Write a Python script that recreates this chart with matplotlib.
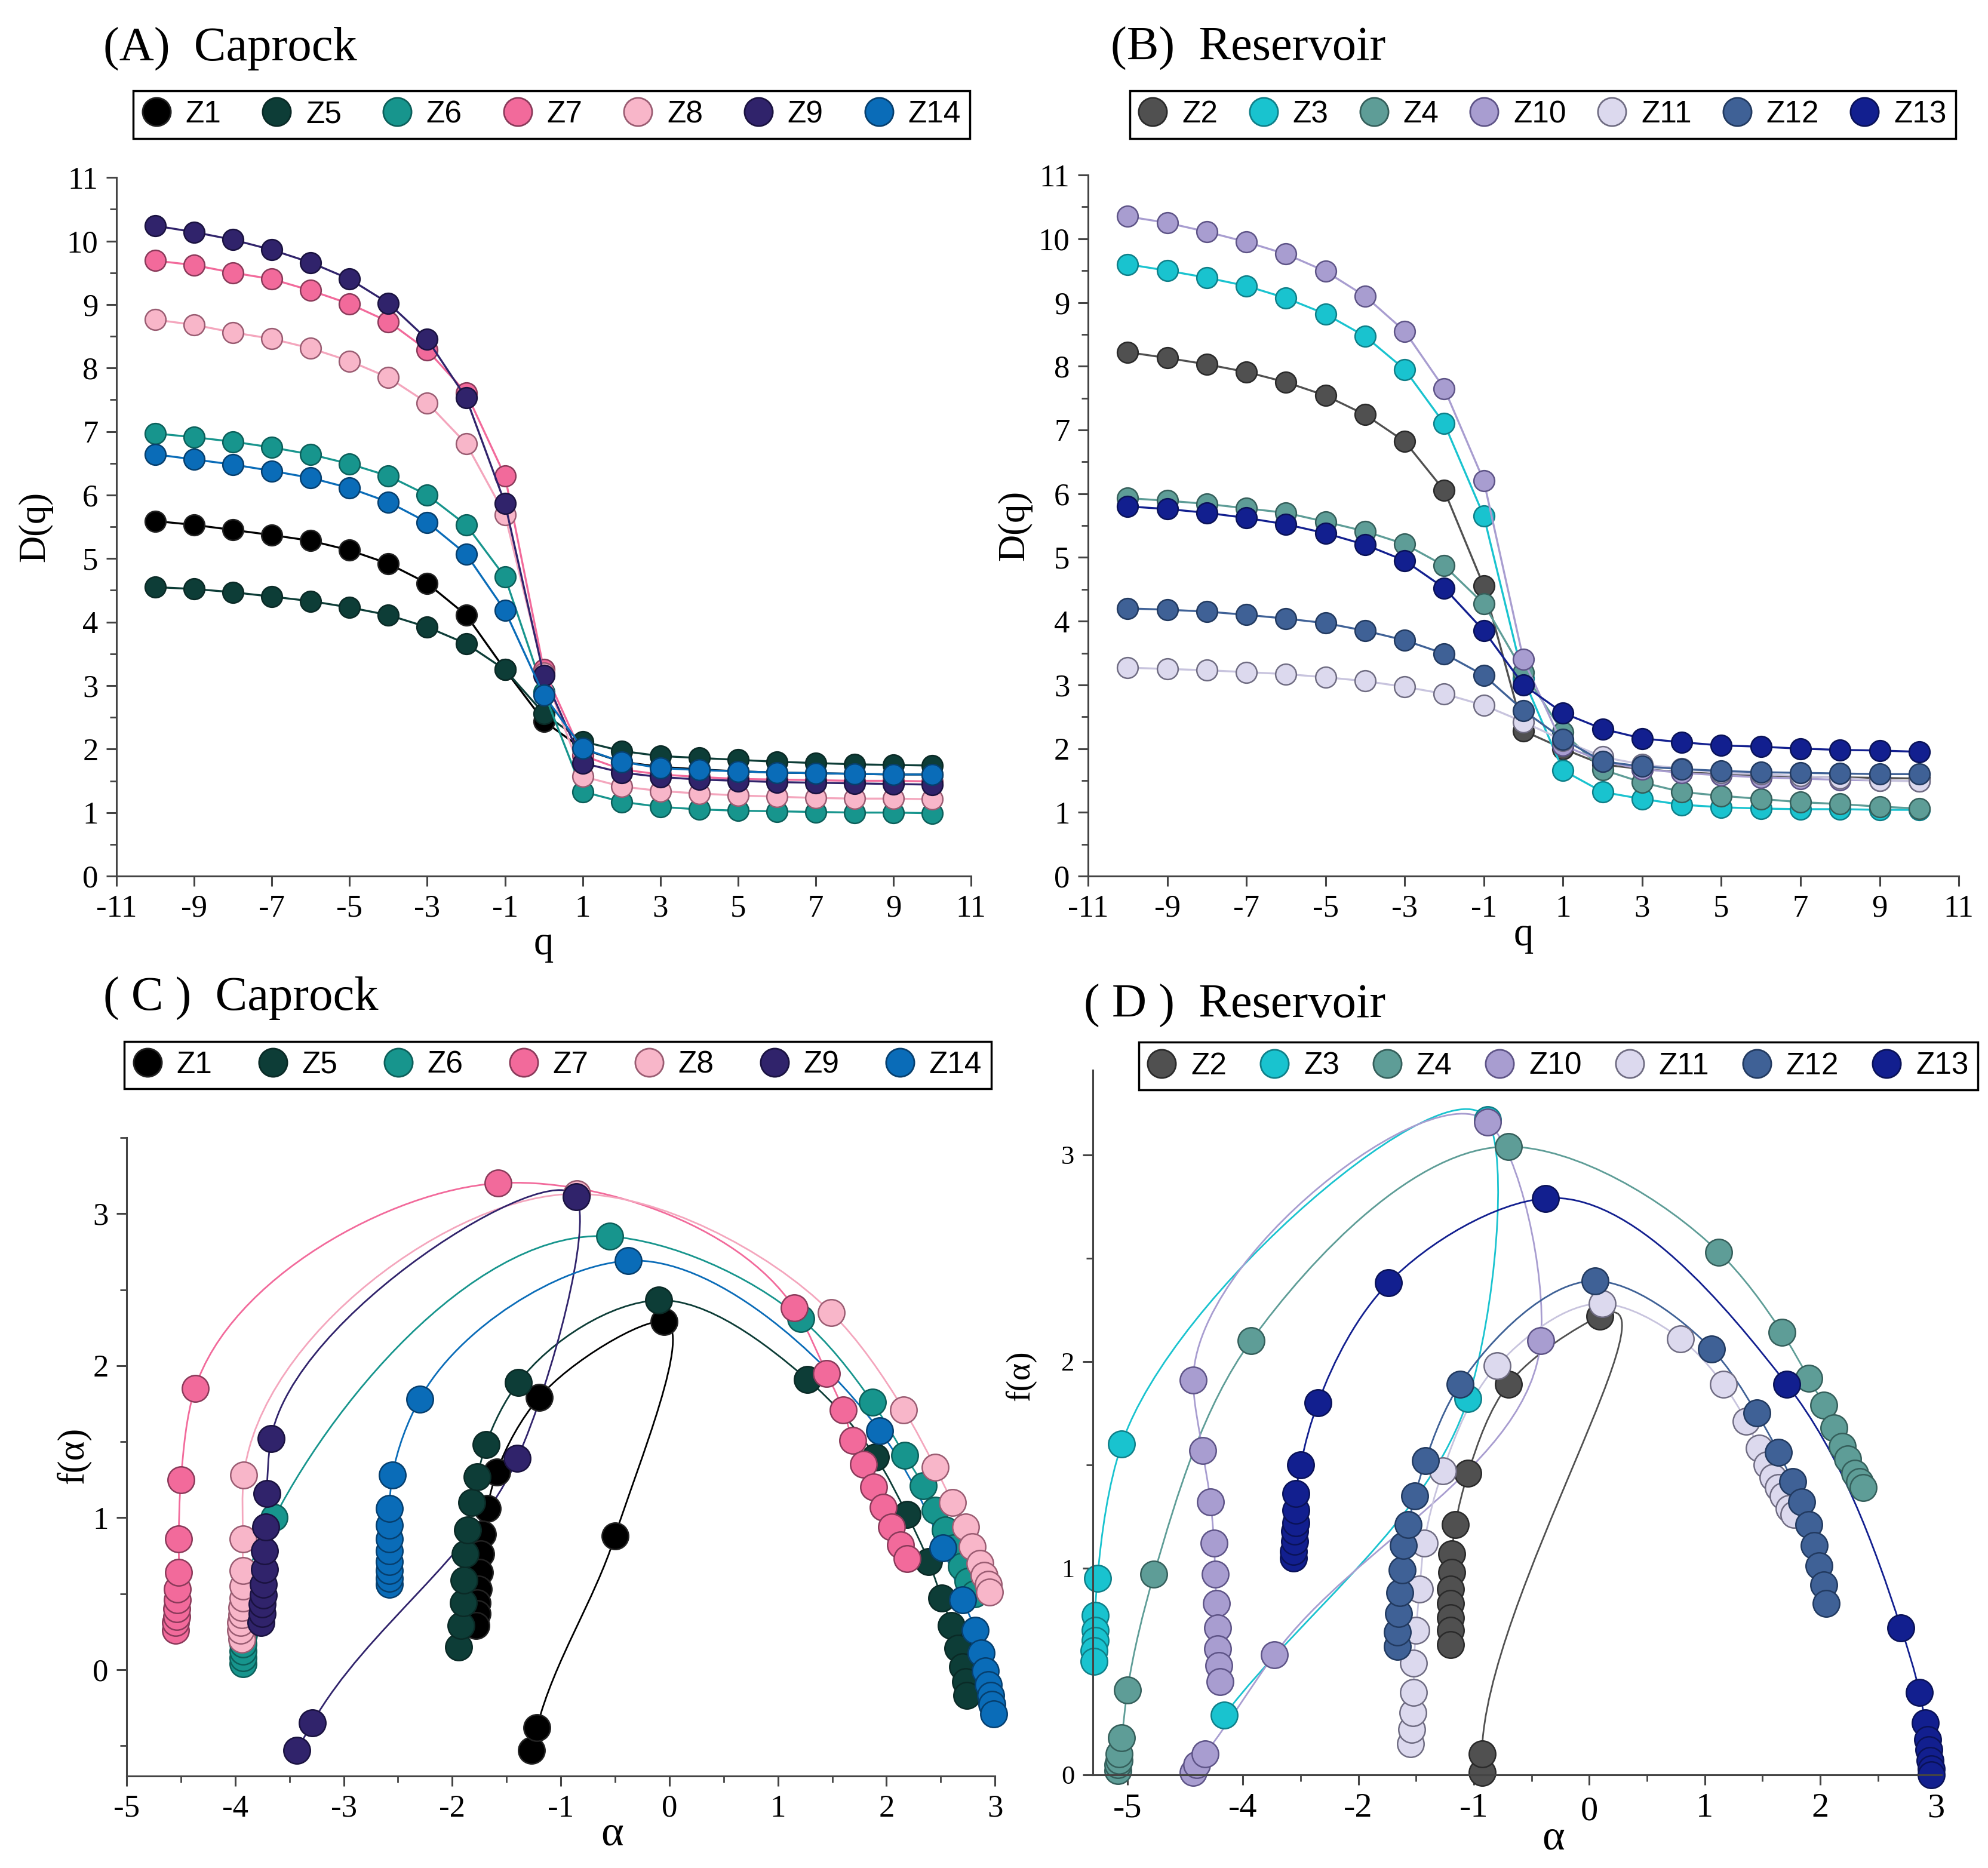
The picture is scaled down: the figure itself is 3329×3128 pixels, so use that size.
import numpy as np
import matplotlib
matplotlib.use('Agg')
import matplotlib.pyplot as plt
from matplotlib.path import Path
from matplotlib.patches import PathPatch
from matplotlib.lines import Line2D
from matplotlib.ticker import FixedLocator, MultipleLocator, FixedFormatter
from matplotlib.transforms import ScaledTranslation

plt.rcParams['font.family'] = ['Liberation Serif', 'DejaVu Serif']
plt.rcParams['axes.unicode_minus'] = False

# ---------------- data ----------------
q = list(range(-10, 11))

# (A) caprock D(q)
capA_names = ['Z1', 'Z5', 'Z6', 'Z7', 'Z8', 'Z9', 'Z14']
dq_Z1 = [5.59, 5.53, 5.45, 5.37, 5.28, 5.13, 4.92, 4.61, 4.11, 3.25, 2.44, 2.00, 1.80, 1.72, 1.68, 1.65, 1.63, 1.62, 1.61, 1.60, 1.60]
dq_Z5 = [4.55, 4.52, 4.47, 4.40, 4.33, 4.23, 4.11, 3.92, 3.66, 3.25, 2.56, 2.12, 1.97, 1.89, 1.86, 1.83, 1.80, 1.78, 1.76, 1.75, 1.74]
dq_Z6 = [6.97, 6.91, 6.84, 6.75, 6.64, 6.49, 6.30, 6.00, 5.53, 4.71, 2.90, 1.33, 1.17, 1.09, 1.05, 1.03, 1.02, 1.01, 1.00, 1.00, 0.99]
dq_Z7 = [9.69, 9.62, 9.50, 9.40, 9.22, 9.01, 8.73, 8.28, 7.61, 6.30, 3.25, 1.90, 1.68, 1.60, 1.56, 1.53, 1.52, 1.51, 1.50, 1.50, 1.49]
dq_Z8 = [8.76, 8.68, 8.56, 8.46, 8.31, 8.11, 7.85, 7.45, 6.81, 5.69, 3.20, 1.57, 1.41, 1.34, 1.30, 1.27, 1.25, 1.23, 1.22, 1.22, 1.21]
dq_Z9 = [10.24, 10.14, 10.02, 9.86, 9.66, 9.40, 9.02, 8.45, 7.53, 5.87, 3.16, 1.78, 1.63, 1.56, 1.52, 1.50, 1.48, 1.47, 1.46, 1.45, 1.44]
dq_Z14 = [6.64, 6.56, 6.48, 6.38, 6.27, 6.11, 5.89, 5.57, 5.07, 4.18, 2.85, 2.01, 1.80, 1.70, 1.67, 1.65, 1.63, 1.62, 1.61, 1.60, 1.60]

# (B) reservoir D(q)
resB_names = ['Z2', 'Z3', 'Z4', 'Z10', 'Z11', 'Z12', 'Z13']
dq_Z2 = [8.22, 8.13, 8.03, 7.91, 7.75, 7.54, 7.24, 6.82, 6.05, 4.55, 2.28, 2.00, 1.75, 1.68, 1.63, 1.60, 1.58, 1.56, 1.55, 1.54, 1.53]
dq_Z3 = [9.60, 9.50, 9.39, 9.26, 9.07, 8.82, 8.47, 7.95, 7.10, 5.65, 3.10, 1.66, 1.32, 1.21, 1.12, 1.08, 1.06, 1.05, 1.05, 1.04, 1.04]
dq_Z4 = [5.93, 5.89, 5.84, 5.77, 5.70, 5.56, 5.41, 5.21, 4.87, 4.27, 3.20, 2.26, 1.67, 1.47, 1.32, 1.26, 1.21, 1.16, 1.13, 1.09, 1.06]
dq_Z10 = [10.35, 10.25, 10.11, 9.95, 9.76, 9.49, 9.10, 8.55, 7.65, 6.20, 3.40, 2.05, 1.80, 1.68, 1.62, 1.58, 1.55, 1.53, 1.51, 1.50, 1.49]
dq_Z11 = [3.27, 3.25, 3.23, 3.20, 3.17, 3.12, 3.06, 2.97, 2.86, 2.68, 2.42, 2.13, 1.87, 1.75, 1.69, 1.62, 1.60, 1.57, 1.54, 1.50, 1.49]
dq_Z12 = [4.20, 4.18, 4.15, 4.10, 4.04, 3.97, 3.85, 3.70, 3.49, 3.15, 2.60, 2.15, 1.80, 1.72, 1.68, 1.65, 1.63, 1.62, 1.61, 1.60, 1.60]
dq_Z13 = [5.80, 5.76, 5.70, 5.62, 5.52, 5.38, 5.20, 4.95, 4.52, 3.85, 3.00, 2.56, 2.31, 2.16, 2.10, 2.05, 2.03, 2.00, 1.98, 1.97, 1.95]

# (C) caprock f(alpha), points in the order the curve passes them
a_Z1 = [-1.27, -1.22, -0.50, -0.05, -1.20, -1.59, -1.68, -1.72, -1.74, -1.75, -1.76, -1.77, -1.77, -1.78]
f_Z1 = [-0.53, -0.38, 0.88, 2.29, 1.79, 1.30, 1.06, 0.89, 0.76, 0.64, 0.53, 0.44, 0.37, 0.29]
a_Z5 = [-1.94, -1.92, -1.90, -1.89, -1.88, -1.86, -1.82, -1.77, -1.69, -1.39, -0.10, 1.27, 1.90, 2.19, 2.39, 2.51, 2.60, 2.66, 2.70, 2.73, 2.74]
f_Z5 = [0.15, 0.29, 0.44, 0.59, 0.76, 0.92, 1.10, 1.27, 1.48, 1.89, 2.43, 1.91, 1.40, 1.02, 0.71, 0.47, 0.29, 0.14, 0.02, -0.08, -0.17]
a_Z6 = [-3.93, -3.93, -3.93, -3.93, -3.92, -3.92, -3.91, -3.90, -3.88, -3.64, -0.55, 1.21, 1.87, 2.17, 2.34, 2.45, 2.54, 2.62, 2.69, 2.75, 2.81]
f_Z6 = [0.04, 0.08, 0.12, 0.17, 0.23, 0.30, 0.38, 0.48, 0.62, 1.00, 2.85, 2.31, 1.76, 1.41, 1.21, 1.05, 0.92, 0.80, 0.68, 0.58, 0.50]
a_Z7 = [-4.55, -4.55, -4.54, -4.54, -4.53, -4.53, -4.52, -4.52, -4.50, -4.37, -1.58, 1.15, 1.45, 1.60, 1.69, 1.79, 1.88, 1.97, 2.05, 2.13, 2.19]
f_Z7 = [0.26, 0.31, 0.35, 0.40, 0.46, 0.53, 0.64, 0.86, 1.25, 1.85, 3.20, 2.38, 1.95, 1.71, 1.51, 1.35, 1.20, 1.07, 0.94, 0.82, 0.73]
a_Z8 = [-3.94, -3.95, -3.95, -3.94, -3.94, -3.93, -3.93, -3.93, -3.93, -3.92, -0.85, 1.49, 2.16, 2.45, 2.61, 2.73, 2.79, 2.86, 2.90, 2.94, 2.95]
f_Z8 = [0.20, 0.26, 0.31, 0.36, 0.41, 0.47, 0.55, 0.65, 0.86, 1.28, 3.13, 2.35, 1.71, 1.33, 1.10, 0.94, 0.81, 0.70, 0.62, 0.56, 0.51]
a_Z9 = [-3.76, -3.75, -3.75, -3.74, -3.74, -3.73, -3.73, -3.72, -3.71, -3.67, -0.86, -1.40, -3.29, -3.43]
f_Z9 = [0.31, 0.37, 0.43, 0.49, 0.56, 0.66, 0.78, 0.94, 1.16, 1.52, 3.11, 1.39, -0.35, -0.53]
a_Z14 = [-2.58, -2.58, -2.58, -2.58, -2.58, -2.58, -2.58, -2.58, -2.55, -2.30, -0.38, 1.94, 2.52, 2.70, 2.82, 2.87, 2.91, 2.94, 2.96, 2.97, 2.99]
f_Z14 = [0.56, 0.60, 0.65, 0.71, 0.78, 0.86, 0.95, 1.06, 1.28, 1.78, 2.69, 1.57, 0.80, 0.46, 0.26, 0.11, -0.01, -0.10, -0.17, -0.23, -0.29]

# (D) reservoir f(alpha); x positions on the linear axis (its tick labels read -5,-4,-2,...)
a_Z2 = [-0.93, -0.93, 0.09, -0.70, -1.05, -1.16, -1.19, -1.19, -1.20, -1.20, -1.20, -1.20, -1.20]
f_Z2 = [0.01, 0.10, 2.22, 1.89, 1.46, 1.21, 1.07, 0.98, 0.90, 0.83, 0.76, 0.70, 0.63]
a_Z3 = [-3.16, -1.05, -0.88, -4.05, -4.26, -4.28, -4.28, -4.28, -4.29, -4.29]
f_Z3 = [0.29, 1.82, 3.17, 1.60, 0.95, 0.77, 0.70, 0.65, 0.60, 0.55]
a_Z4 = [-4.08, -4.08, -4.07, -4.07, -4.05, -4.00, -3.77, -2.93, -0.70, 1.12, 1.67, 1.90, 2.03, 2.12, 2.19, 2.24, 2.30, 2.34, 2.37]
f_Z4 = [0.02, 0.05, 0.07, 0.10, 0.18, 0.41, 0.97, 2.10, 3.04, 2.53, 2.14, 1.92, 1.79, 1.68, 1.59, 1.53, 1.46, 1.42, 1.39]
a_Z10 = [-3.43, -3.40, -3.33, -2.73, -0.42, -0.88, -3.43, -3.35, -3.28, -3.25, -3.24, -3.23, -3.22, -3.22, -3.21, -3.20]
f_Z10 = [0.01, 0.05, 0.10, 0.58, 2.10, 3.16, 1.91, 1.57, 1.32, 1.12, 0.97, 0.83, 0.71, 0.61, 0.53, 0.45]
a_Z11 = [-1.55, -1.54, -1.53, -1.52, -1.52, -1.50, -1.47, -1.43, -1.27, -0.80, 0.11, 0.79, 1.16, 1.36, 1.47, 1.54, 1.59, 1.64, 1.68, 1.73, 1.77]
f_Z11 = [0.15, 0.22, 0.30, 0.40, 0.54, 0.70, 0.90, 1.12, 1.47, 1.98, 2.28, 2.11, 1.89, 1.71, 1.58, 1.50, 1.44, 1.39, 1.35, 1.29, 1.26]
a_Z12 = [-1.66, -1.66, -1.65, -1.64, -1.62, -1.61, -1.57, -1.51, -1.42, -1.12, 0.05, 1.06, 1.45, 1.64, 1.76, 1.84, 1.90, 1.95, 1.99, 2.03, 2.05]
f_Z12 = [0.62, 0.69, 0.78, 0.88, 0.99, 1.11, 1.21, 1.35, 1.52, 1.89, 2.39, 2.06, 1.75, 1.56, 1.42, 1.32, 1.21, 1.11, 1.01, 0.92, 0.83]
a_Z13 = [-2.56, -2.56, -2.55, -2.55, -2.54, -2.54, -2.54, -2.50, -2.35, -1.74, -0.38, 1.71, 2.70, 2.86, 2.91, 2.93, 2.94, 2.95, 2.96, 2.96]
f_Z13 = [1.05, 1.08, 1.13, 1.18, 1.22, 1.28, 1.36, 1.50, 1.80, 2.38, 2.79, 1.89, 0.71, 0.40, 0.25, 0.17, 0.12, 0.07, 0.03, 0.00]

d_ticks = [-4, -3, -2, -1, 0, 1, 2, 3]
d_ticklabels = ['-5', '-4', '-2', '-1', '0', '1', '2', '3']

# ---------------- styles ----------------
FILL = {'Z1': '#000000', 'Z5': '#0d3d37', 'Z6': '#17958d', 'Z7': '#f26a9b',
        'Z8': '#f8b6c9', 'Z9': '#30236b', 'Z14': '#0a6cb8',
        'Z2': '#505050', 'Z3': '#19c3cf', 'Z4': '#5e9d97', 'Z10': '#a89dd0',
        'Z11': '#dcd9ee', 'Z12': '#3f6196', 'Z13': '#121f8f'}
EDGE = {'Z1': '#222222', 'Z5': '#0a2a26', 'Z6': '#0c5f5a', 'Z7': '#8a3a5a',
        'Z8': '#9a5c72', 'Z9': '#1a1240', 'Z14': '#063f6e',
        'Z2': '#2a2a2a', 'Z3': '#0f7f88', 'Z4': '#355f5b', 'Z10': '#5e5487',
        'Z11': '#6f6c82', 'Z12': '#223a60', 'Z13': '#0a1258'}
LINE = dict(FILL)
LINE['Z11'] = '#c8c4de'
LINE['Z8'] = '#f4a6bd'

AX_COL = '#444444'
TICK_FS = 38


def style(ax):
    for s in ['top', 'right']:
        ax.spines[s].set_visible(False)
    for s in ['left', 'bottom']:
        ax.spines[s].set_color(AX_COL)
        ax.spines[s].set_linewidth(2.2)
    ax.tick_params(which='major', direction='out', length=12, width=2.2,
                   color=AX_COL, labelsize=TICK_FS, pad=10)
    ax.tick_params(which='minor', direction='out', length=8, width=2.0, color=AX_COL)


def smooth_path(ax, xs, ys):
    # chord-length Catmull-Rom through the points, drawn as cubic Bezier
    pts = ax.transData.transform(np.column_stack([xs, ys]))
    n = len(pts)
    d = np.hypot(*np.diff(pts, axis=0).T)
    d = np.maximum(d, 1e-3)
    t = np.concatenate([[0], np.cumsum(d)])
    m = np.zeros_like(pts)
    m[0] = (pts[1] - pts[0]) / (t[1] - t[0])
    m[-1] = (pts[-1] - pts[-2]) / (t[-1] - t[-2])
    for i in range(1, n - 1):
        m[i] = ((pts[i] - pts[i - 1]) / (t[i] - t[i - 1])
                - (pts[i + 1] - pts[i - 1]) / (t[i + 1] - t[i - 1])
                + (pts[i + 1] - pts[i]) / (t[i + 1] - t[i]))
    verts = [pts[0]]
    codes = [Path.MOVETO]
    for i in range(n - 1):
        dt = t[i + 1] - t[i]
        verts += [pts[i] + m[i] * dt / 3, pts[i + 1] - m[i + 1] * dt / 3, pts[i + 1]]
        codes += [Path.CURVE4] * 3
    verts = ax.transData.inverted().transform(np.array(verts))
    return Path(verts, codes)


def add_legend(ax, names, rect):
    handles = [Line2D([], [], ls='none', marker='o', ms=34, mfc=FILL[n],
                      mec=EDGE[n], mew=2) for n in names]
    leg = ax.legend(handles, names, ncol=len(names), mode='expand', loc='center',
                    bbox_to_anchor=rect, bbox_transform=ax.figure.transFigure,
                    frameon=True, fancybox=False, edgecolor='black',
                    prop={'family': 'Liberation Sans', 'size': 37},
                    handletextpad=0.5, columnspacing=0.4, borderpad=0.3,
                    handlelength=0.9, borderaxespad=0)
    leg.get_frame().set_linewidth(2.5)
    leg.get_frame().set_alpha(1)


fig = plt.figure(figsize=(33.29, 31.28), dpi=100)

# ---------------- (A) and (B) ----------------
dqA = [dq_Z1, dq_Z5, dq_Z6, dq_Z7, dq_Z8, dq_Z9, dq_Z14]
dqB = [dq_Z2, dq_Z3, dq_Z4, dq_Z10, dq_Z11, dq_Z12, dq_Z13]
top_panels = [
    ([0.0586, 0.531, 0.4299, 0.374], capA_names, dqA, '(A)  Caprock', 0.052,
     (0.067, 0.9233, 0.4209, 0.0307), -0.095, -0.098),
    ([0.5473, 0.531, 0.438, 0.3753], resB_names, dqB, '(B)  Reservoir', 0.5587,
     (0.5683, 0.9233, 0.4155, 0.0307), -0.084, -0.085),
]
for rect, names, series, title, tx, lrect, ylx, xly in top_panels:
    ax = fig.add_axes(rect)
    style(ax)
    for n, vals in zip(names, series):
        ax.plot(q, vals, color=LINE[n], lw=2.4, marker='o', ms=25, mfc=FILL[n],
                mec=EDGE[n], mew=1.8, clip_on=False)
    ax.set_xlim(-11, 11)
    ax.set_ylim(0, 11)
    ax.xaxis.set_major_locator(FixedLocator(list(range(-11, 12, 2))))
    ax.yaxis.set_major_locator(MultipleLocator(1))
    ax.yaxis.set_minor_locator(MultipleLocator(0.5))
    ax.set_xlabel('q', fontsize=48)
    ax.set_ylabel('D(q)', fontsize=45)
    ax.xaxis.set_label_coords(0.5, xly)
    ax.xaxis.label.set_va('center')
    ax.yaxis.set_label_coords(ylx, 0.5)
    ax.yaxis.label.set_va('center')
    add_legend(ax, names, lrect)
    fig.text(tx, 0.974, title, fontsize=58, ha='left', va='center')

# ---------------- (C) ----------------
axC = fig.add_axes([0.0637, 0.0492, 0.4368, 0.3418])
style(axC)
axC.set_xlim(-5, 3)
axC.set_ylim(-0.7, 3.5)
axC.xaxis.set_major_locator(MultipleLocator(1))
axC.xaxis.set_minor_locator(MultipleLocator(0.5))
axC.yaxis.set_major_locator(FixedLocator([0, 1, 2, 3]))
axC.yaxis.set_minor_locator(FixedLocator([-0.5, 0.5, 1.5, 2.5, 3.5]))
capC = [('Z1', a_Z1, f_Z1), ('Z5', a_Z5, f_Z5), ('Z6', a_Z6, f_Z6), ('Z7', a_Z7, f_Z7),
        ('Z8', a_Z8, f_Z8), ('Z9', a_Z9, f_Z9), ('Z14', a_Z14, f_Z14)]
for n, a, f in capC:
    axC.add_patch(PathPatch(smooth_path(axC, a, f), facecolor='none',
                            edgecolor=LINE[n], lw=2.0, clip_on=False))
    axC.plot(a, f, ls='none', marker='o', ms=32, mfc=FILL[n], mec=EDGE[n],
             mew=1.8, clip_on=False)
axC.set_xlabel('α', fontsize=52)
axC.set_ylabel('f(α)', fontsize=45)
axC.xaxis.set_label_coords(0.559, -0.092)
axC.xaxis.label.set_va('center')
axC.yaxis.set_label_coords(-0.061, 0.502)
axC.yaxis.label.set_va('center')
add_legend(axC, [c[0] for c in capC], (0.0625, 0.415, 0.436, 0.0297))
fig.text(0.052, 0.4658, '( C )  Caprock', fontsize=58, ha='left', va='center')

# ---------------- (D) ----------------
axD = fig.add_axes([0.5497, 0.0499, 0.4269, 0.3772])
style(axD)
axD.set_xlim(-4.3, 3.05)
axD.set_ylim(0, 3.41)
axD.xaxis.set_major_locator(FixedLocator(d_ticks))
axD.xaxis.set_major_formatter(FixedFormatter(d_ticklabels))
axD.xaxis.set_minor_locator(FixedLocator([-3.5, -2.5, -1.5, -0.5, 0.5, 1.5, 2.5]))
axD.yaxis.set_major_locator(FixedLocator([0, 1, 2, 3]))
axD.yaxis.set_minor_locator(FixedLocator([0.5, 1.5, 2.5]))
axD.tick_params(axis='y', labelsize=32)
axD.tick_params(axis='x', labelsize=42)
resD = [('Z2', a_Z2, f_Z2), ('Z3', a_Z3, f_Z3), ('Z4', a_Z4, f_Z4), ('Z10', a_Z10, f_Z10),
        ('Z11', a_Z11, f_Z11), ('Z12', a_Z12, f_Z12), ('Z13', a_Z13, f_Z13)]
for n, a, f in resD:
    axD.add_patch(PathPatch(smooth_path(axD, a, f), facecolor='none',
                            edgecolor=LINE[n], lw=2.0, clip_on=False))
    axD.plot(a, f, ls='none', marker='o', ms=32, mfc=FILL[n], mec=EDGE[n],
             mew=1.8, clip_on=False)
axD.set_xlabel('α', fontsize=52)
axD.set_ylabel('f(α)', fontsize=40)
axD.xaxis.set_label_coords(0.543, -0.091)
axD.xaxis.label.set_va('center')
axD.yaxis.set_label_coords(-0.085, 0.566)
axD.yaxis.label.set_va('center')
add_legend(axD, [c[0] for c in resD], (0.5728, 0.415, 0.422, 0.0285))
fig.text(0.5452, 0.4616, '( D )  Reservoir', fontsize=58, ha='left', va='center')

# the "0" label of (D) sits a little lower in the original
fig.canvas.draw()
for lab in axD.get_xticklabels():
    if lab.get_text() == '0':
        lab.set_transform(lab.get_transform() + ScaledTranslation(0, -0.05, fig.dpi_scale_trans))

fig.savefig('out.png', dpi=100, facecolor='white')
